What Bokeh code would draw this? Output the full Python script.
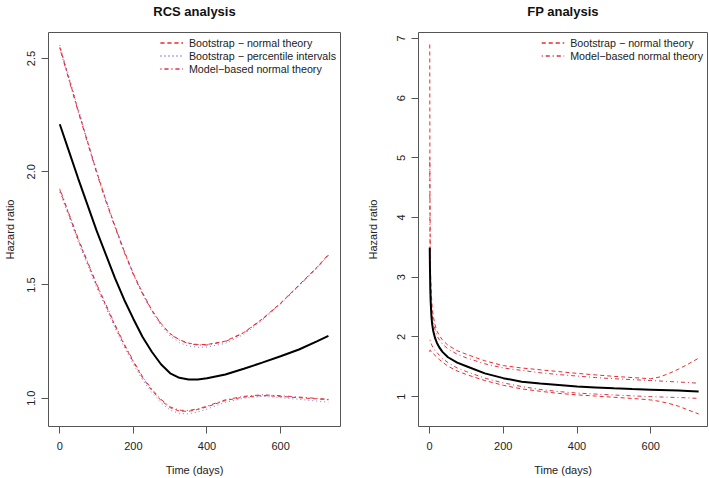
from bokeh.plotting import figure
from bokeh.models import (Range1d, FixedTicker, PrintfTickFormatter, Legend, LegendItem, Title)
from bokeh.layouts import row
from bokeh.embed import file_html
from bokeh.resources import INLINE

# ---------------- RCS analysis data ----------------
rcs_t = [0, 25, 50, 75, 100, 125, 150, 175, 200, 225, 250, 275, 300, 325, 350, 375, 400,
         450, 500, 550, 600, 650, 700, 730]
rcs_hr = [2.21, 2.09, 1.97, 1.855, 1.74, 1.635, 1.53, 1.435, 1.35, 1.27, 1.205, 1.15, 1.11,
          1.09, 1.083, 1.083, 1.088, 1.105, 1.13, 1.157, 1.185, 1.215, 1.252, 1.275]
rcs_bn_up = [2.55, 2.41, 2.27, 2.135, 2.00, 1.875, 1.76, 1.65, 1.55, 1.465, 1.39, 1.33, 1.285,
             1.258, 1.243, 1.237, 1.237, 1.252, 1.29, 1.35, 1.42, 1.50, 1.58, 1.635]
rcs_bn_lo = [1.92, 1.81, 1.70, 1.60, 1.50, 1.41, 1.32, 1.235, 1.16, 1.09, 1.035, 0.99, 0.958,
             0.943, 0.942, 0.95, 0.962, 0.99, 1.005, 1.012, 1.008, 1.002, 0.997, 0.993]
rcs_bp_up = [2.56, 2.42, 2.28, 2.14, 2.005, 1.88, 1.76, 1.65, 1.548, 1.46, 1.383, 1.32, 1.274,
             1.245, 1.23, 1.225, 1.226, 1.242, 1.282, 1.343, 1.415, 1.496, 1.578, 1.632]
rcs_bp_lo = [1.91, 1.80, 1.69, 1.59, 1.49, 1.40, 1.31, 1.225, 1.15, 1.08, 1.025, 0.98, 0.947,
             0.932, 0.931, 0.939, 0.952, 0.982, 1.0, 1.008, 1.003, 0.995, 0.987, 0.982]
rcs_mb_up = [2.545, 2.405, 2.265, 2.13, 1.995, 1.87, 1.755, 1.645, 1.545, 1.46, 1.387, 1.328,
             1.283, 1.256, 1.241, 1.235, 1.235, 1.25, 1.288, 1.348, 1.418, 1.498, 1.578, 1.632]
rcs_mb_lo = [1.925, 1.815, 1.705, 1.605, 1.505, 1.415, 1.325, 1.24, 1.165, 1.095, 1.04, 0.995,
             0.962, 0.947, 0.946, 0.953, 0.965, 0.993, 1.008, 1.015, 1.011, 1.005, 0.999, 0.995]

# ---------------- FP analysis data ----------------
fp_t = [0.5, 1, 2, 3, 5, 7, 10, 15, 20, 27, 35, 50, 75, 100, 150, 200, 250, 300, 350, 400,
        450, 500, 550, 600, 625, 650, 675, 700, 730]
fp_hr = [3.5, 3.2, 2.8, 2.6, 2.35, 2.22, 2.1, 1.98, 1.9, 1.82, 1.75, 1.66, 1.57, 1.51, 1.39,
         1.31, 1.25, 1.22, 1.195, 1.17, 1.155, 1.14, 1.127, 1.117, 1.112, 1.107, 1.102, 1.095, 1.085]
fp_bn_up = [6.9, 4.5, 3.4, 3.0, 2.7, 2.5, 2.35, 2.2, 2.1, 2.02, 1.95, 1.86, 1.77, 1.71, 1.60,
            1.52, 1.48, 1.45, 1.42, 1.39, 1.365, 1.34, 1.32, 1.30, 1.33, 1.39, 1.46, 1.54, 1.645]
fp_bn_lo = [1.75, 1.78, 1.78, 1.77, 1.75, 1.74, 1.72, 1.69, 1.66, 1.62, 1.58, 1.51, 1.43, 1.37,
            1.27, 1.19, 1.13, 1.09, 1.055, 1.03, 1.01, 0.99, 0.97, 0.945, 0.92, 0.885, 0.84, 0.78, 0.71]
fp_mb_up = [5.0, 3.8, 3.0, 2.75, 2.5, 2.36, 2.25, 2.12, 2.02, 1.95, 1.88, 1.80, 1.71, 1.65,
            1.55, 1.48, 1.44, 1.40, 1.37, 1.345, 1.32, 1.30, 1.285, 1.27, 1.262, 1.253, 1.245, 1.237, 1.225]
fp_mb_lo = [1.95, 1.95, 1.93, 1.91, 1.88, 1.85, 1.82, 1.77, 1.74, 1.69, 1.64, 1.57, 1.48, 1.42,
            1.31, 1.23, 1.17, 1.12, 1.085, 1.06, 1.043, 1.028, 1.013, 1.0, 0.995, 0.99, 0.985, 0.98, 0.97]

x_ticks = [0, 200, 400, 600]
rcs_y_ticks = [1.0, 1.5, 2.0, 2.5]
fp_y_ticks = [1, 2, 3, 4, 5, 6, 7]

FONT = "Liberation Sans"
RED = "#ee2a2a"
BLUE = "#5a5ad8"
DRED = "#d8344a"


def style(p, yticks, yfmt, title, ystand, ylabstand):
    # spacer panel next to the frame, then the real title further out
    p.add_layout(Title(text=" ", text_font_size="11px", standoff=0), "above")
    p.add_layout(Title(text=title, align="center", text_font=FONT, text_font_size="13px",
                       text_font_style="bold", text_color="#111111", standoff=0), "above")
    p.xgrid.visible = False
    p.ygrid.visible = False
    p.outline_line_color = "#555555"
    p.outline_line_width = 1
    for ax in (p.xaxis[0], p.yaxis[0]):
        ax.axis_line_color = None
        ax.major_tick_in = 0
        ax.major_tick_out = 7
        ax.major_tick_line_color = "#555555"
        ax.minor_tick_line_color = None
        ax.major_label_text_font = FONT
        ax.major_label_text_font_size = "11px"
        ax.major_label_text_color = "#222222"
        ax.axis_label_text_font = FONT
        ax.axis_label_text_font_size = "11px"
        ax.axis_label_text_font_style = "normal"
        ax.axis_label_text_color = "#222222"
    p.xaxis[0].major_label_standoff = 8
    p.xaxis[0].axis_label_standoff = 11
    p.yaxis[0].major_label_standoff = ystand
    p.yaxis[0].axis_label_standoff = ylabstand
    p.xaxis[0].ticker = FixedTicker(ticks=x_ticks)
    p.yaxis[0].ticker = FixedTicker(ticks=yticks)
    p.yaxis[0].formatter = PrintfTickFormatter(format=yfmt)
    p.yaxis[0].major_label_orientation = "parallel"
    p.xaxis[0].axis_label = "Time (days)"
    p.yaxis[0].axis_label = "Hazard ratio"


def make_legend(p, items):
    leg = Legend(items=items, location="top_right")
    leg.border_line_color = None
    leg.background_fill_alpha = 0
    leg.label_text_font = FONT
    leg.label_text_font_size = "10.7px"
    leg.label_text_color = "#222222"
    leg.spacing = -1
    leg.padding = 4
    leg.margin = 4
    leg.glyph_width = 23
    leg.glyph_height = 13
    leg.label_height = 13
    leg.label_standoff = 6
    p.add_layout(leg)


# ---------------- Left panel ----------------
p1 = figure(width=360, height=478, output_backend="svg", toolbar_location=None, title=None,
            x_range=Range1d(-30.7, 762.8), y_range=Range1d(0.875, 2.615),
            min_border_left=48, min_border_right=20, min_border_top=32, min_border_bottom=52)
style(p1, rcs_y_ticks, "%.1f", "RCS analysis", 6, 9)

bn1 = p1.line(rcs_t, rcs_bn_up, line_color=RED, line_dash="4 3", line_width=1)
bn2 = p1.line(rcs_t, rcs_bn_lo, line_color=RED, line_dash="4 3", line_width=1)
bp1 = p1.line(rcs_t, rcs_bp_up, line_color=BLUE, line_dash="1 3", line_width=1, line_alpha=0.8)
bp2 = p1.line(rcs_t, rcs_bp_lo, line_color=BLUE, line_dash="1 3", line_width=1, line_alpha=0.8)
mb1 = p1.line(rcs_t, rcs_mb_up, line_color=DRED, line_dash="1 3 4 3", line_width=1)
mb2 = p1.line(rcs_t, rcs_mb_lo, line_color=DRED, line_dash="1 3 4 3", line_width=1)
p1.line(rcs_t, rcs_hr, line_color="black", line_width=2)
make_legend(p1, [
    LegendItem(label="Bootstrap \u2212 normal theory", renderers=[bn1, bn2]),
    LegendItem(label="Bootstrap \u2212 percentile intervals", renderers=[bp1, bp2]),
    LegendItem(label="Model\u2212based normal theory", renderers=[mb1, mb2]),
])

# ---------------- Right panel ----------------
p2 = figure(width=349, height=478, output_backend="svg", toolbar_location=None, title=None,
            x_range=Range1d(-30, 754), y_range=Range1d(0.5, 7.1),
            min_border_left=58, min_border_right=2, min_border_top=32, min_border_bottom=52)
style(p2, fp_y_ticks, "%d", "FP analysis", 6, 16)

fbn1 = p2.line(fp_t, fp_bn_up, line_color=RED, line_dash="4 3", line_width=1)
fbn2 = p2.line(fp_t, fp_bn_lo, line_color=RED, line_dash="4 3", line_width=1)
fmb1 = p2.line(fp_t, fp_mb_up, line_color=DRED, line_dash="1 3 4 3", line_width=1)
fmb2 = p2.line(fp_t, fp_mb_lo, line_color=DRED, line_dash="1 3 4 3", line_width=1)
p2.line(fp_t, fp_hr, line_color="black", line_width=2)
make_legend(p2, [
    LegendItem(label="Bootstrap \u2212 normal theory", renderers=[fbn1, fbn2]),
    LegendItem(label="Model\u2212based normal theory", renderers=[fmb1, fmb2]),
])

layout = row(p1, p2)
open("out.html", "w").write(file_html(layout, INLINE))
